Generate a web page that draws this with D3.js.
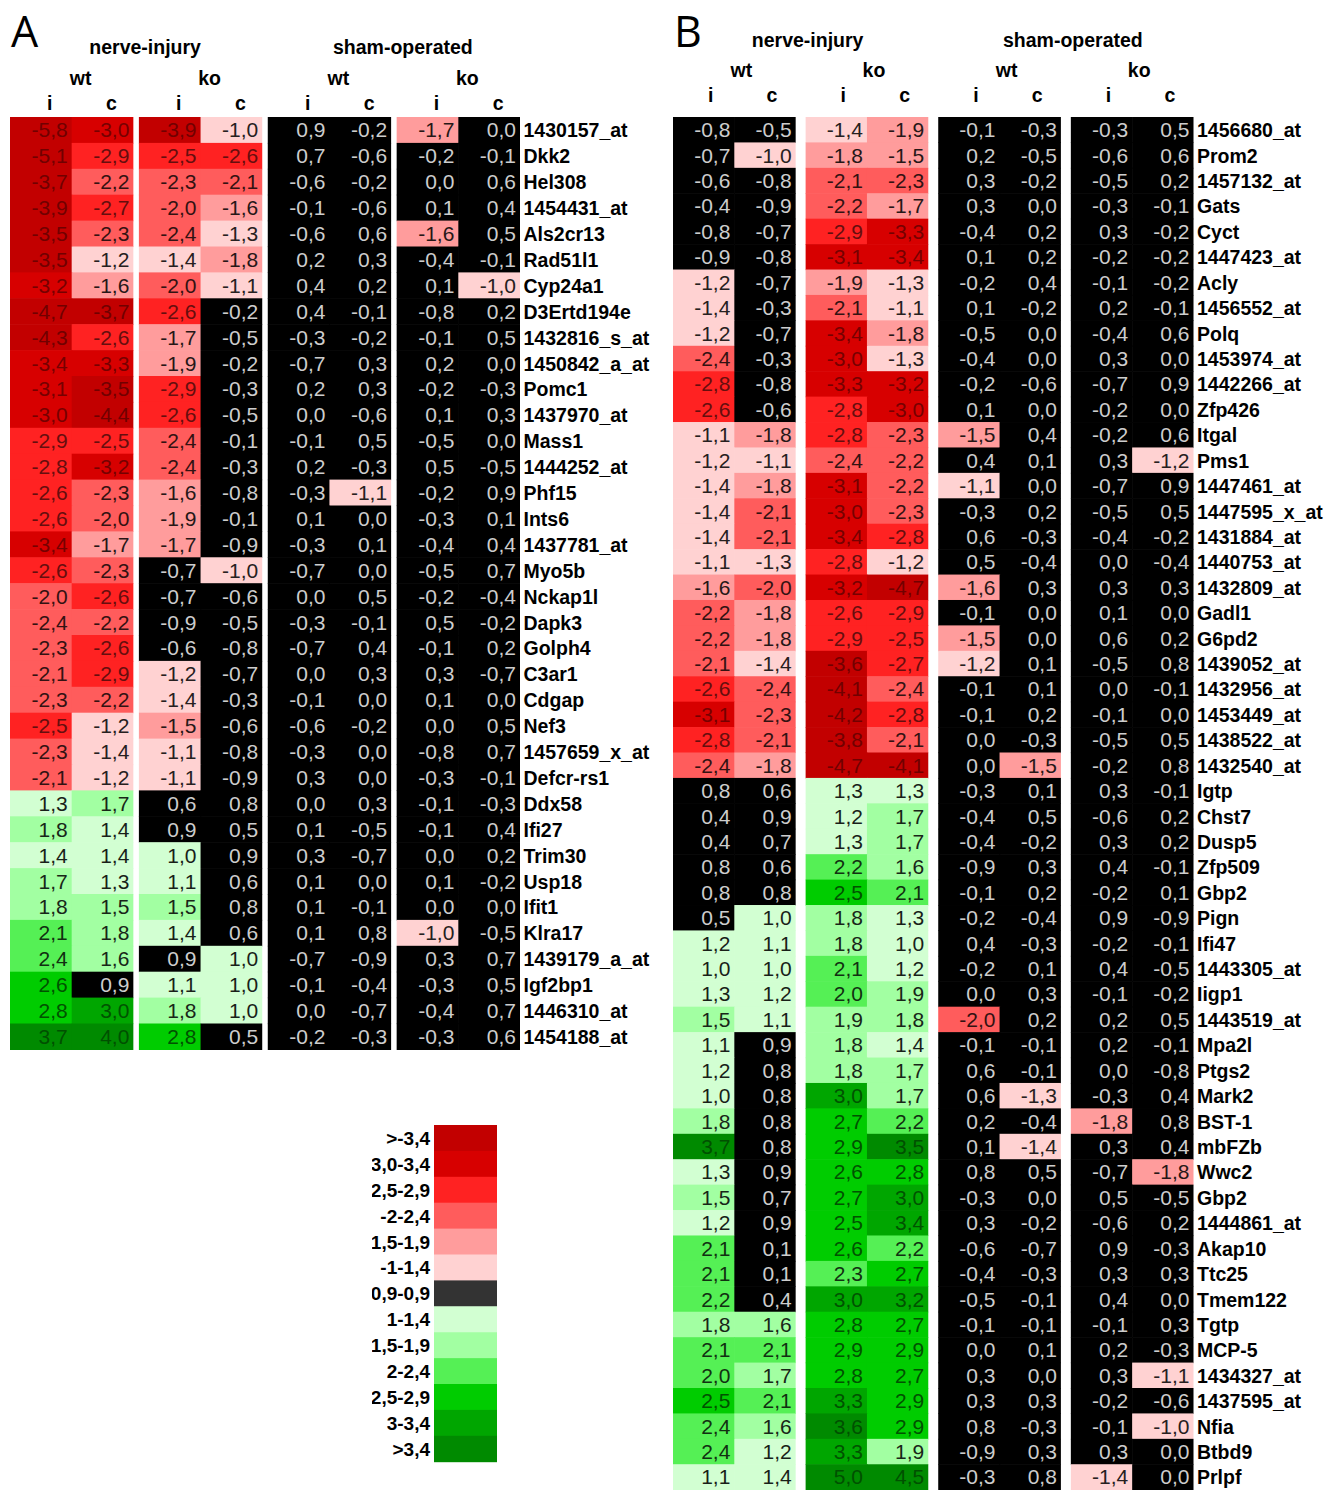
<!DOCTYPE html>
<html>
<head>
<meta charset="utf-8">
<script src="https://cdn.jsdelivr.net/npm/d3@7"></script>
<style>
  body { margin: 0; background: #fff; }
  svg { display: block; }
</style>
</head>
<body>
<svg id="chart" width="1338" height="1490"></svg>
<script>
// Column structure: condition > genotype > side (ipsilateral / contralateral)
const conditions = ["nerve-injury", "sham-operated"];
const genotypes = ["wt", "ko"];
const sides = ["i", "c"];

// Panel A: genes and fold changes (wt i, wt c, ko i, ko c | sham wt i, wt c, ko i, ko c)
const genesA = [
  "1430157_at", "Dkk2", "Hel308", "1454431_at", "Als2cr13", "Rad51l1", "Cyp24a1",
  "D3Ertd194e", "1432816_s_at", "1450842_a_at", "Pomc1", "1437970_at", "Mass1",
  "1444252_at", "Phf15", "Ints6", "1437781_at", "Myo5b", "Nckap1l", "Dapk3", "Golph4",
  "C3ar1", "Cdgap", "Nef3", "1457659_x_at", "Defcr-rs1", "Ddx58", "Ifi27", "Trim30",
  "Usp18", "Ifit1", "Klra17", "1439179_a_at", "Igf2bp1", "1446310_at", "1454188_at"
];
const valuesA = [
  [-5.8, -3.0, -3.9, -1.0, 0.9, -0.2, -1.7, 0.0],
  [-5.1, -2.9, -2.5, -2.6, 0.7, -0.6, -0.2, -0.1],
  [-3.7, -2.2, -2.3, -2.1, -0.6, -0.2, 0.0, 0.6],
  [-3.9, -2.7, -2.0, -1.6, -0.1, -0.6, 0.1, 0.4],
  [-3.5, -2.3, -2.4, -1.3, -0.6, 0.6, -1.6, 0.5],
  [-3.5, -1.2, -1.4, -1.8, 0.2, 0.3, -0.4, -0.1],
  [-3.2, -1.6, -2.0, -1.1, 0.4, 0.2, 0.1, -1.0],
  [-4.7, -3.7, -2.6, -0.2, 0.4, -0.1, -0.8, 0.2],
  [-4.3, -2.6, -1.7, -0.5, -0.3, -0.2, -0.1, 0.5],
  [-3.4, -3.3, -1.9, -0.2, -0.7, 0.3, 0.2, 0.0],
  [-3.1, -3.5, -2.9, -0.3, 0.2, 0.3, -0.2, -0.3],
  [-3.0, -4.4, -2.6, -0.5, 0.0, -0.6, 0.1, 0.3],
  [-2.9, -2.5, -2.4, -0.1, -0.1, 0.5, -0.5, 0.0],
  [-2.8, -3.2, -2.4, -0.3, 0.2, -0.3, 0.5, -0.5],
  [-2.6, -2.3, -1.6, -0.8, -0.3, -1.1, -0.2, 0.9],
  [-2.6, -2.0, -1.9, -0.1, 0.1, 0.0, -0.3, 0.1],
  [-3.4, -1.7, -1.7, -0.9, -0.3, 0.1, -0.4, 0.4],
  [-2.6, -2.3, -0.7, -1.0, -0.7, 0.0, -0.5, 0.7],
  [-2.0, -2.6, -0.7, -0.6, 0.0, 0.5, -0.2, -0.4],
  [-2.4, -2.2, -0.9, -0.5, -0.3, -0.1, 0.5, -0.2],
  [-2.3, -2.6, -0.6, -0.8, -0.7, 0.4, -0.1, 0.2],
  [-2.1, -2.9, -1.2, -0.7, 0.0, 0.3, 0.3, -0.7],
  [-2.3, -2.2, -1.4, -0.3, -0.1, 0.0, 0.1, 0.0],
  [-2.5, -1.2, -1.5, -0.6, -0.6, -0.2, 0.0, 0.5],
  [-2.3, -1.4, -1.1, -0.8, -0.3, 0.0, -0.8, 0.7],
  [-2.1, -1.2, -1.1, -0.9, 0.3, 0.0, -0.3, -0.1],
  [1.3, 1.7, 0.6, 0.8, 0.0, 0.3, -0.1, -0.3],
  [1.8, 1.4, 0.9, 0.5, 0.1, -0.5, -0.1, 0.4],
  [1.4, 1.4, 1.0, 0.9, 0.3, -0.7, 0.0, 0.2],
  [1.7, 1.3, 1.1, 0.6, 0.1, 0.0, 0.1, -0.2],
  [1.8, 1.5, 1.5, 0.8, 0.1, -0.1, 0.0, 0.0],
  [2.1, 1.8, 1.4, 0.6, 0.1, 0.8, -1.0, -0.5],
  [2.4, 1.6, 0.9, 1.0, -0.7, -0.9, 0.3, 0.7],
  [2.6, 0.9, 1.1, 1.0, -0.1, -0.4, -0.3, 0.5],
  [2.8, 3.0, 1.8, 1.0, 0.0, -0.7, -0.4, 0.7],
  [3.7, 4.0, 2.8, 0.5, -0.2, -0.3, -0.3, 0.6]
];

// Panel B: genes and fold changes, same column order
const genesB = [
  "1456680_at", "Prom2", "1457132_at", "Gats", "Cyct", "1447423_at", "Acly", "1456552_at",
  "Polq", "1453974_at", "1442266_at", "Zfp426", "Itgal", "Pms1", "1447461_at",
  "1447595_x_at", "1431884_at", "1440753_at", "1432809_at", "Gadl1", "G6pd2",
  "1439052_at", "1432956_at", "1453449_at", "1438522_at", "1432540_at", "Igtp", "Chst7",
  "Dusp5", "Zfp509", "Gbp2", "Pign", "Ifi47", "1443305_at", "Iigp1", "1443519_at",
  "Mpa2l", "Ptgs2", "Mark2", "BST-1", "mbFZb", "Wwc2", "Gbp2", "1444861_at", "Akap10",
  "Ttc25", "Tmem122", "Tgtp", "MCP-5", "1434327_at", "1437595_at", "Nfia", "Btbd9", "Prlpf"
];
const valuesB = [
  [-0.8, -0.5, -1.4, -1.9, -0.1, -0.3, -0.3, 0.5],
  [-0.7, -1.0, -1.8, -1.5, 0.2, -0.5, -0.6, 0.6],
  [-0.6, -0.8, -2.1, -2.3, 0.3, -0.2, -0.5, 0.2],
  [-0.4, -0.9, -2.2, -1.7, 0.3, 0.0, -0.3, -0.1],
  [-0.8, -0.7, -2.9, -3.3, -0.4, 0.2, 0.3, -0.2],
  [-0.9, -0.8, -3.1, -3.4, 0.1, 0.2, -0.2, -0.2],
  [-1.2, -0.7, -1.9, -1.3, -0.2, 0.4, -0.1, -0.2],
  [-1.4, -0.3, -2.1, -1.1, 0.1, -0.2, 0.2, -0.1],
  [-1.2, -0.7, -3.4, -1.8, -0.5, 0.0, -0.4, 0.6],
  [-2.4, -0.3, -3.0, -1.3, -0.4, 0.0, 0.3, 0.0],
  [-2.8, -0.8, -3.3, -3.2, -0.2, -0.6, -0.7, 0.9],
  [-2.6, -0.6, -2.8, -3.0, 0.1, 0.0, -0.2, 0.0],
  [-1.1, -1.8, -2.8, -2.3, -1.5, 0.4, -0.2, 0.6],
  [-1.2, -1.1, -2.4, -2.2, 0.4, 0.1, 0.3, -1.2],
  [-1.4, -1.8, -3.1, -2.2, -1.1, 0.0, -0.7, 0.9],
  [-1.4, -2.1, -3.0, -2.3, -0.3, 0.2, -0.5, 0.5],
  [-1.4, -2.1, -3.4, -2.8, 0.6, -0.3, -0.4, -0.2],
  [-1.1, -1.3, -2.8, -1.2, 0.5, -0.4, 0.0, -0.4],
  [-1.6, -2.0, -3.2, -4.7, -1.6, 0.3, 0.3, 0.3],
  [-2.2, -1.8, -2.6, -2.9, -0.1, 0.0, 0.1, 0.0],
  [-2.2, -1.8, -2.9, -2.5, -1.5, 0.0, 0.6, 0.2],
  [-2.1, -1.4, -3.6, -2.7, -1.2, 0.1, -0.5, 0.8],
  [-2.6, -2.4, -4.1, -2.4, -0.1, 0.1, 0.0, -0.1],
  [-3.1, -2.3, -4.2, -2.8, -0.1, 0.2, -0.1, 0.0],
  [-2.8, -2.1, -3.8, -2.1, 0.0, -0.3, -0.5, 0.5],
  [-2.4, -1.8, -4.7, -4.1, 0.0, -1.5, -0.2, 0.8],
  [0.8, 0.6, 1.3, 1.3, -0.3, 0.1, 0.3, -0.1],
  [0.4, 0.9, 1.2, 1.7, -0.4, 0.5, -0.6, 0.2],
  [0.4, 0.7, 1.3, 1.7, -0.4, -0.2, 0.3, 0.2],
  [0.8, 0.6, 2.2, 1.6, -0.9, 0.3, 0.4, -0.1],
  [0.8, 0.8, 2.5, 2.1, -0.1, 0.2, -0.2, 0.1],
  [0.5, 1.0, 1.8, 1.3, -0.2, -0.4, 0.9, -0.9],
  [1.2, 1.1, 1.8, 1.0, 0.4, -0.3, -0.2, -0.1],
  [1.0, 1.0, 2.1, 1.2, -0.2, 0.1, 0.4, -0.5],
  [1.3, 1.2, 2.0, 1.9, 0.0, 0.3, -0.1, -0.2],
  [1.5, 1.1, 1.9, 1.8, -2.0, 0.2, 0.2, 0.5],
  [1.1, 0.9, 1.8, 1.4, -0.1, -0.1, 0.2, -0.1],
  [1.2, 0.8, 1.8, 1.7, 0.6, -0.1, 0.0, -0.8],
  [1.0, 0.8, 3.0, 1.7, 0.6, -1.3, -0.3, 0.4],
  [1.8, 0.8, 2.7, 2.2, 0.2, -0.4, -1.8, 0.8],
  [3.7, 0.8, 2.9, 3.5, 0.1, -1.4, 0.3, 0.4],
  [1.3, 0.9, 2.6, 2.8, 0.8, 0.5, -0.7, -1.8],
  [1.5, 0.7, 2.7, 3.0, -0.3, 0.0, 0.5, -0.5],
  [1.2, 0.9, 2.5, 3.4, 0.3, -0.2, -0.6, 0.2],
  [2.1, 0.1, 2.6, 2.2, -0.6, -0.7, 0.9, -0.3],
  [2.1, 0.1, 2.3, 2.7, -0.4, -0.3, 0.3, 0.3],
  [2.2, 0.4, 3.0, 3.2, -0.5, -0.1, 0.4, 0.0],
  [1.8, 1.6, 2.8, 2.7, -0.1, -0.1, -0.1, 0.3],
  [2.1, 2.1, 2.9, 2.9, 0.0, 0.1, 0.2, -0.3],
  [2.0, 1.7, 2.8, 2.7, 0.3, 0.0, 0.3, -1.1],
  [2.5, 2.1, 3.3, 2.9, 0.3, 0.3, -0.2, -0.6],
  [2.4, 1.6, 3.6, 2.9, 0.8, -0.3, -0.1, -1.0],
  [2.4, 1.2, 3.3, 1.9, -0.9, 0.3, 0.3, 0.0],
  [1.1, 1.4, 5.0, 4.5, -0.3, 0.8, -1.4, 0.0]
];

// Colour classes (fold-change bins) and legend labels
const classBreaks = [-3.45, -2.95, -2.45, -1.95, -1.45, -0.95, 0.95, 1.45, 1.95, 2.45, 2.95, 3.45];
const classColors = [
  "#c20000", "#d70000", "#ff2222", "#ff5c5c", "#ff9c9c", "#ffd2d2", "#000000",
  "#d2ffd2", "#a2ffa2", "#55f055", "#00cc00", "#00a600", "#008a00"
];
const legendLabels = [
  ">-3,4", "-3,0-3,4", "-2,5-2,9", "-2-2,4", "-1,5-1,9", "-1-1,4", "-0,9-0,9",
  "1-1,4", "1,5-1,9", "2-2,4", "2,5-2,9", "3-3,4", ">3,4"
];
const legendNeutral = "#333333";

const FONT = "'Liberation Sans', Arial, Helvetica, sans-serif";
const svg = d3.select("#chart");

const colorScale = d3.scaleThreshold().domain(classBreaks).range(classColors);
// How far the number text is pulled from its cell colour toward black
const textDarken = d3.scaleThreshold().domain(classBreaks)
  .range([0.42, 0.45, 0.6, 0.8, 0.85, 0.85, 0, 0.88, 0.85, 0.8, 0.6, 0.5, 0.42]);

const locale = d3.formatLocale({ decimal: ",", thousands: ".", grouping: [3], currency: ["", ""], minus: "-" });
const fmt = locale.format(".1f");

function textColor(v) {
  if (Math.abs(v) < 0.95) return "#cdcdcd";
  return d3.interpolateRgb(colorScale(v), "#000")(textDarken(v));
}

function drawPanel(p) {
  const g = svg.append("g");
  const groups = d3.cross(conditions, genotypes).map(d => d.join("|"));
  const xg = d3.scaleBand().domain(groups).range([p.x0, p.x1]).paddingInner(p.pad).paddingOuter(0);
  const xs = d3.scaleBand().domain(sides).range([0, xg.bandwidth()]);
  const y = d3.scaleBand().domain(d3.range(p.genes.length))
    .range([p.top, p.top + p.rowH * p.genes.length]);

  const cells = p.values.flatMap((row, r) => row.map((v, k) => ({
    r, v, group: groups[Math.floor(k / 2)], side: sides[k % 2]
  })));

  // Panel letter
  g.append("text")
    .attr("x", p.letterX).attr("y", p.letterY)
    .attr("font-family", "'Open Sans', 'Noto Sans', sans-serif")
    .attr("font-size", 43)
    .attr("fill", "#000")
    .text(p.letter);

  // Condition headers
  conditions.forEach(c => {
    const a = xg(c + "|" + genotypes[0]);
    const b = xg(c + "|" + genotypes[1]) + xg.bandwidth();
    g.append("text")
      .attr("x", (a + b) / 2 + p.hOff).attr("y", p.condY)
      .attr("text-anchor", "middle")
      .attr("font-family", FONT).attr("font-weight", "bold").attr("font-size", 19.5)
      .text(c);
  });

  // Genotype and side headers
  groups.forEach(gr => {
    g.append("text")
      .attr("x", xg(gr) + xg.bandwidth() / 2 + p.hOff).attr("y", p.genoY)
      .attr("text-anchor", "middle")
      .attr("font-family", FONT).attr("font-weight", "bold").attr("font-size", 19.5)
      .text(gr.split("|")[1]);
    sides.forEach(s => {
      g.append("text")
        .attr("x", xg(gr) + xs(s) + xs.bandwidth() / 2 + p.hOff).attr("y", p.sideY)
        .attr("text-anchor", "middle")
        .attr("font-family", FONT).attr("font-weight", "bold").attr("font-size", 19.5)
        .text(s);
    });
  });

  // Cells
  g.append("g").selectAll("rect").data(cells).join("rect")
    .attr("x", d => xg(d.group) + xs(d.side))
    .attr("y", d => y(d.r))
    .attr("width", d => xs.bandwidth() + (d.side === sides[0] ? 0.6 : 0))
    .attr("height", y.bandwidth() + 0.6)
    .attr("fill", d => colorScale(d.v));

  // Cell values
  g.append("g").selectAll("text").data(cells).join("text")
    .attr("x", d => xg(d.group) + xs(d.side) + xs.bandwidth() - 4)
    .attr("y", d => y(d.r) + y.bandwidth() / 2 + 7.5)
    .attr("text-anchor", "end")
    .attr("font-family", FONT).attr("font-size", 21)
    .attr("fill", d => textColor(d.v))
    .text(d => fmt(d.v));

  // Gene labels
  g.append("g").selectAll("text").data(p.genes).join("text")
    .attr("x", p.x1 + 3.5)
    .attr("y", (d, i) => y(i) + y.bandwidth() / 2 + 7.5)
    .attr("font-family", FONT).attr("font-weight", "bold").attr("font-size", 19.5)
    .attr("fill", "#000")
    .text(d => d);
}

drawPanel({
  letter: "A", genes: genesA, values: valuesA,
  x0: 10, x1: 520, pad: 0.043, top: 117, rowH: 25.9,
  letterX: 11, letterY: 47, condY: 54, genoY: 85, sideY: 110, hOff: 9
});
drawPanel({
  letter: "B", genes: genesB, values: valuesB,
  x0: 673, x1: 1193.5, pad: 0.075, top: 117, rowH: 25.42,
  letterX: 674, letterY: 47, condY: 47, genoY: 77, sideY: 102, hOff: 7
});

// Legend
const legendTop = 1125, legendH = 25.9, legendX = 434, legendW = 63;
const yL = d3.scaleBand().domain(d3.range(legendLabels.length))
  .range([legendTop, legendTop + legendH * legendLabels.length]);
const lg = svg.append("g");
svg.append("clipPath").attr("id", "legend-clip")
  .append("rect").attr("x", 372).attr("y", legendTop - 10).attr("width", 120).attr("height", 400);
const neutralIndex = classColors.indexOf("#000000");
lg.selectAll("rect").data(legendLabels).join("rect")
  .attr("x", legendX).attr("y", (d, i) => yL(i))
  .attr("width", legendW).attr("height", yL.bandwidth() + 0.5)
  .attr("fill", (d, i) => i === neutralIndex ? legendNeutral : classColors[i]);
lg.append("g").attr("clip-path", "url(#legend-clip)")
  .selectAll("text").data(legendLabels).join("text")
  .attr("x", legendX - 4)
  .attr("y", (d, i) => yL(i) + yL.bandwidth() / 2 + 7)
  .attr("text-anchor", "end")
  .attr("font-family", FONT).attr("font-weight", "bold").attr("font-size", 19)
  .text(d => d);
</script>
</body>
</html>
